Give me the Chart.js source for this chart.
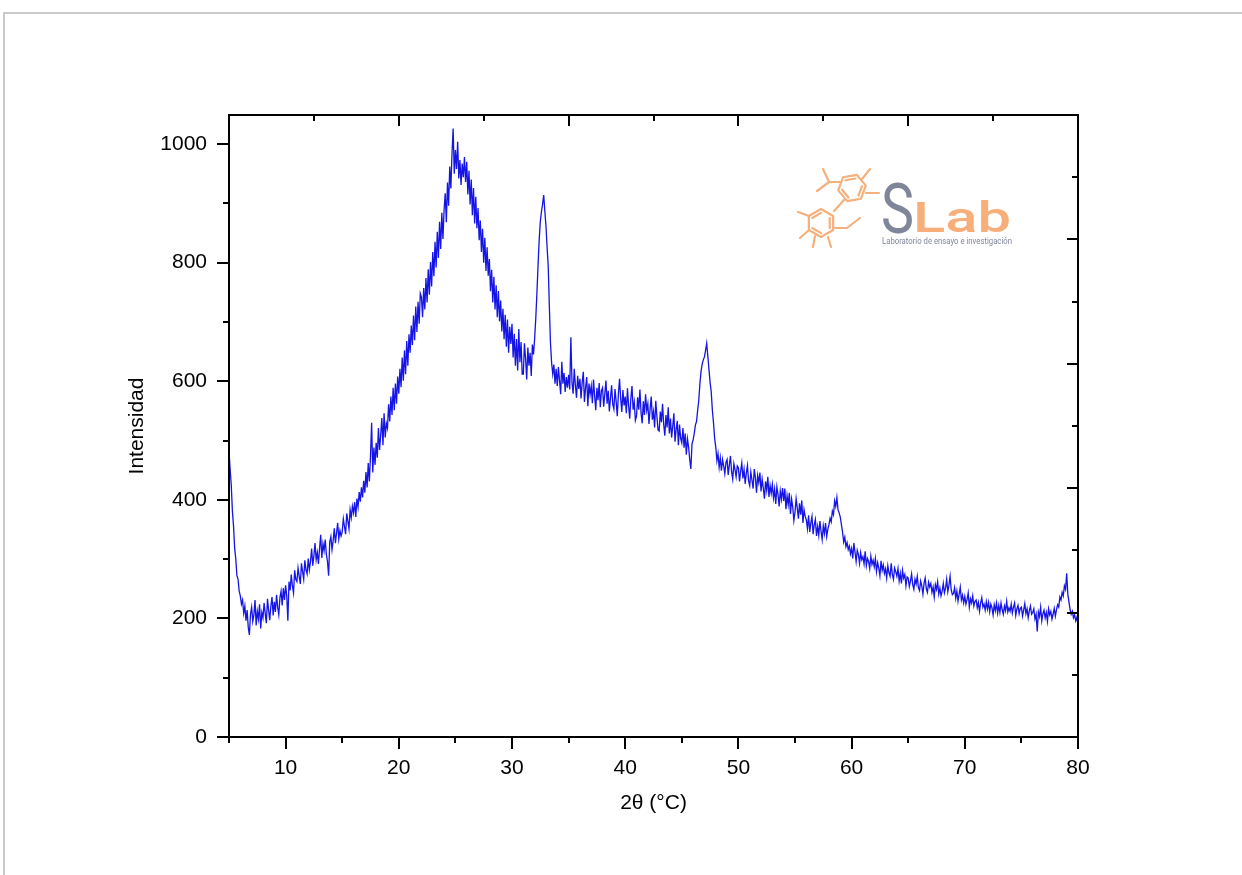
<!DOCTYPE html>
<html>
<head>
<meta charset="utf-8">
<script src="https://cdn.jsdelivr.net/npm/chart.js@4.4.0/dist/chart.umd.min.js"></script>
<style>
    body { margin: 0; background: #fff; }
    #frame {
        position: absolute; left: 3px; top: 12px; right: 0; bottom: 0;
        border-top: 2px solid #cacaca; border-left: 2px solid #cacaca;
    }
    #xrdChart { position: absolute; left: 0; top: 0; }
</style>
</head>
<body>
<div id="frame"></div>
<canvas id="xrdChart" width="1242" height="875"></canvas>
<script>
// Diffractogram sampled every 0.1 degrees, 5.0 -> 80.0 (one row per degree)
const twoThetaStart = 5;
const twoThetaStep = 0.1;
const intensity = [
    482, 452, 425, 381, 356, 318, 300, 272, 266, 246,   // 5
    238, 224, 231, 209, 221, 196, 214, 185, 172, 207,   // 6
    219, 195, 206, 231, 188, 212, 199, 224, 183, 210,   // 7
    201, 226, 208, 192, 233, 214, 197, 221, 236, 205,   // 8
    228, 211, 240, 219, 206, 235, 246, 222, 251, 231,   // 9
    256, 238, 196, 262, 247, 274, 255, 243, 281, 266,   // 10
    262, 285, 271, 258, 293, 279, 266, 298, 282, 275,   // 11
    301, 282, 296, 318, 289, 306, 327, 299, 311, 292,   // 12
    318, 341, 302, 326, 314, 333, 308, 296, 272, 329,   // 13
    338, 316, 331, 352, 327, 344, 361, 334, 348, 339,   // 14
    346, 368, 355, 342, 377, 364, 351, 383, 370, 389,   // 15
    378, 396, 371, 402, 388, 413, 397, 421, 404, 432,   // 16
    412, 447, 421, 462, 431, 474, 530, 446, 488, 459,   // 17
    496, 471, 521, 484, 509, 538, 492, 546, 505, 529,   // 18
    521, 561, 532, 574, 543, 589, 551, 596, 562, 608,   // 19
    579, 621, 590, 640, 601, 652, 612, 668, 626, 679,   // 20
    648, 694, 661, 711, 669, 726, 683, 734, 697, 748,   // 21
    742, 708, 757, 721, 774, 733, 789, 746, 801, 760,   // 22
    818, 777, 835, 792, 852, 808, 869, 823, 884, 840,   // 23
    889, 917, 868, 935, 896, 962, 925, 984, 1026, 950,  // 24
    990, 958, 1004, 942, 973, 931, 967, 944, 978, 936,  // 25
    970, 915, 955, 898, 940, 880, 926, 866, 911, 858,   // 26
    892, 838, 871, 818, 857, 800, 842, 786, 826, 778,   // 27
    806, 752, 788, 733, 776, 721, 762, 708, 752, 701,   // 28
    736, 684, 722, 671, 712, 658, 704, 648, 692, 663,   // 29
    697, 640, 680, 626, 671, 618, 688, 632, 666, 612,   // 30
    612, 664, 638, 603, 657, 626, 648, 609, 662, 645,   // 31
    672, 706, 748, 795, 838, 869, 886, 898, 914, 887,   // 32
    862, 826, 794, 726, 664, 631, 612, 628, 596, 621,   // 33
    592, 624, 601, 578, 633, 596, 614, 582, 607, 589,   // 34
    611, 586, 674, 598, 579, 621, 593, 572, 609, 587,   // 35
    604, 571, 598, 616, 565, 589, 607, 558, 596, 578,   // 36
    592, 563, 603, 575, 551, 589, 568, 597, 556, 584,   // 37
    589, 557, 579, 601, 562, 584, 549, 572, 593, 561,   // 38
    553, 587, 566, 541, 579, 604, 571, 548, 585, 559,   // 39
    574, 546, 588, 559, 537, 571, 592, 552, 565, 534,   // 40
    541, 573, 552, 586, 547, 529, 566, 543, 578, 551,   // 41
    562, 528, 553, 574, 535, 549, 522, 567, 541, 518,   // 42
    516, 549, 531, 562, 527, 508, 543, 522, 556, 512,   // 43
    537, 505, 524, 546, 498, 519, 533, 492, 527, 503,   // 44
    496, 521, 488, 512, 476, 503, 489, 468, 452, 494,   // 45
    501, 512, 526, 532, 551, 568, 596, 617, 629, 636,   // 46
    641, 652, 664, 642, 620, 598, 582, 551, 530, 504,   // 47
    489, 466, 478, 455, 471, 449, 468, 457, 444, 463,   // 48
    468, 442, 459, 474, 447, 435, 461, 451, 439, 457,   // 49
    454, 431, 449, 462, 436, 451, 427, 445, 458, 432,   // 50
    424, 447, 433, 419, 452, 438, 412, 441, 429, 446,   // 51
    414, 435, 420, 402, 431, 416, 439, 405, 424, 411,   // 52
    426, 403, 418, 393, 422, 409, 389, 415, 401, 420,   // 53
    398, 419, 384, 407, 392, 412, 376, 401, 388, 365,   // 54
    379, 402, 386, 368, 394, 375, 399, 361, 383, 372,   // 55
    366, 351, 374, 346, 361, 372, 342, 358, 367, 339,   // 56
    355, 340, 364, 347, 333, 356, 343, 361, 338, 350,   // 57
    358, 369, 363, 381, 375, 398, 389, 404, 383, 378,   // 58
    371, 358, 346, 329, 337, 321, 328, 316, 322, 309,   // 59
    318, 301, 327, 312, 296, 315, 308, 293, 311, 299,   // 60
    304, 292, 313, 289, 301, 296, 284, 305, 291, 298,   // 61
    287, 301, 279, 294, 285, 272, 297, 281, 290, 276,   // 62
    284, 268, 289, 277, 271, 293, 274, 266, 285, 279,   // 63
    271, 284, 263, 276, 259, 281, 268, 274, 255, 270,   // 64
    268, 254, 263, 275, 257, 249, 266, 258, 271, 252,   // 65
    247, 263, 255, 241, 259, 268, 250, 244, 261, 253,   // 66
    259, 244, 253, 236, 257, 249, 262, 241, 251, 238,   // 67
    246, 259, 243, 251, 266, 245, 256, 271, 248, 240,   // 68
    242, 252, 234, 246, 229, 241, 253, 231, 239, 226,   // 69
    237, 224, 232, 243, 219, 233, 226, 238, 221, 229,   // 70
    231, 218, 227, 212, 226, 235, 219, 224, 214, 228,   // 71
    216, 227, 211, 224, 218, 206, 223, 213, 226, 209,   // 72
    222, 210, 226, 215, 207, 221, 213, 229, 211, 218,   // 73
    212, 224, 209, 219, 226, 205, 216, 222, 208, 217,   // 74
    219, 204, 214, 225, 208, 216, 201, 213, 221, 207,   // 75
    210, 216, 199, 207, 178, 211, 203, 219, 196, 208,   // 76
    214, 201, 210, 195, 216, 206, 212, 199, 207, 217,   // 77
    204, 215, 223, 219, 236, 231, 244, 238, 255, 249,   // 78
    276, 241, 228, 215, 207, 212, 201, 206, 196, 202,   // 79
    190                                                 // 80
];

const xTickValues = [10, 20, 30, 40, 50, 60, 70, 80];
const yTickValues = [0, 200, 400, 600, 800, 1000];

const points = intensity.map((v, i) => ({
    x: +(twoThetaStart + i * twoThetaStep).toFixed(2),
    y: v
}));

const axisFont = { family: "'Liberation Sans', Arial, sans-serif", size: 21 };

// Box frame plus tick marks (outward on left/bottom, inward on top/right)
const frameTicks = {
    id: 'frameTicks',
    afterDatasetsDraw(chart) {
        const { ctx, chartArea: a, scales: { x, y } } = chart;
        ctx.save();
        ctx.strokeStyle = '#000';
        ctx.lineWidth = 2;
        ctx.strokeRect(a.left, a.top, a.right - a.left, a.bottom - a.top);

        ctx.beginPath();
        // left axis
        for (let v = 0; v <= 1000; v += 100) {
            const py = Math.round(y.getPixelForValue(v));
            ctx.moveTo(a.left, py);
            ctx.lineTo(a.left - (v % 200 === 0 ? 12 : 6), py);
        }
        // bottom axis
        for (let v = 5; v <= 80; v += 5) {
            const px = Math.round(x.getPixelForValue(v));
            ctx.moveTo(px, a.bottom);
            ctx.lineTo(px, a.bottom + (v % 10 === 0 ? 12 : 6));
        }
        // top and right axes: ten divisions, long marks on even ones
        const w = a.right - a.left, h = a.bottom - a.top;
        for (let k = 1; k < 10; k++) {
            const len = k % 2 === 0 ? 11 : 6;
            const px = Math.round(a.left + w * k / 10);
            ctx.moveTo(px, a.top);
            ctx.lineTo(px, a.top + len);
            const py = Math.round(a.bottom - h * k / 10);
            ctx.moveTo(a.right, py);
            ctx.lineTo(a.right - len, py);
        }
        ctx.stroke();
        ctx.restore();
    }
};

// Lab logo in the upper right of the plot
function fitText(ctx, text, font, left, baseline, width) {
    ctx.font = font;
    const sx = width / ctx.measureText(text).width;
    ctx.save();
    ctx.translate(left, baseline);
    ctx.scale(sx, 1);
    ctx.fillText(text, 0, 0);
    ctx.restore();
}

function hexRing(ctx, cx, cy, r, rot) {
    const pts = [];
    for (let i = 0; i < 6; i++) {
        const t = rot + Math.PI / 2 + i * Math.PI / 3;
        pts.push([cx + r * Math.cos(t), cy - r * Math.sin(t)]);
    }
    ctx.beginPath();
    pts.forEach((p, i) => i ? ctx.lineTo(p[0], p[1]) : ctx.moveTo(p[0], p[1]));
    ctx.closePath();
    ctx.stroke();
    // inner double-bond strokes
    ctx.beginPath();
    [0, 2, 4].forEach(i => {
        const p = pts[i], q = pts[(i + 1) % 6];
        const f = 0.72;
        ctx.moveTo(cx + (p[0] - cx) * f, cy + (p[1] - cy) * f);
        ctx.lineTo(cx + (q[0] - cx) * f, cy + (q[1] - cy) * f);
    });
    ctx.stroke();
    return pts;
}

const logo = {
    id: 'logo',
    afterDraw(chart) {
        const ctx = chart.ctx;
        ctx.save();
        ctx.strokeStyle = '#f6b07c';
        ctx.lineWidth = 2.2;
        ctx.lineCap = 'round';
        ctx.lineJoin = 'round';
        hexRing(ctx, 852, 188, 14, -0.35);
        hexRing(ctx, 821, 223, 14, 0.0);
        const bonds = [
            [[840, 182], [829, 182]], [[829, 182], [823, 169]], [[829, 182], [817, 191]],
            [[866, 193], [879, 193]], [[862, 179], [870, 169]], [[844, 200], [834, 211]],
            [[809, 216], [798, 212]], [[809, 230], [800, 238]], [[815, 236], [813, 247]],
            [[828, 237], [831, 247]], [[834, 228], [847, 228]], [[847, 228], [860, 218]]
        ];
        ctx.beginPath();
        bonds.forEach(([p, q]) => { ctx.moveTo(p[0], p[1]); ctx.lineTo(q[0], q[1]); });
        ctx.stroke();

        ctx.fillStyle = '#7f8699';
        fitText(ctx, 'S', "400 70px Roboto, sans-serif", 881, 233, 33);
        ctx.fillStyle = '#f8ae78';
        fitText(ctx, 'Lab', "500 43px Roboto, sans-serif", 913, 232, 98);
        ctx.fillStyle = '#7f8699';
        fitText(ctx, 'Laboratorio de ensayo e investigación', "400 9px Roboto, sans-serif", 882, 244, 130);
        ctx.restore();
    }
};

new Chart(document.getElementById('xrdChart'), {
    type: 'line',
    data: {
        datasets: [{
            data: points,
            borderColor: '#1414e6',
            borderWidth: 1.3,
            pointRadius: 0,
            tension: 0,
            fill: false
        }]
    },
    options: {
        responsive: false,
        animation: false,
        layout: { padding: { top: 115, right: 164, left: 0, bottom: 0 } },
        plugins: { legend: { display: false }, tooltip: { enabled: false } },
        scales: {
            x: {
                type: 'linear',
                min: 5,
                max: 80,
                grid: { display: false, drawTicks: false },
                border: { display: false },
                afterBuildTicks: s => { s.ticks = xTickValues.map(v => ({ value: v })); },
                afterFit: s => { s.height = 138; },
                ticks: { color: '#000', font: axisFont, padding: 19, maxRotation: 0, callback: v => String(v) },
                title: {
                    display: true, text: '2θ (°C)', color: '#000',
                    font: { ...axisFont, lineHeight: 1.2 }, padding: { bottom: 59, top: 0 }
                }
            },
            y: {
                min: 0,
                max: 1049,
                grid: { display: false, drawTicks: false },
                border: { display: false },
                afterBuildTicks: s => { s.ticks = yTickValues.map(v => ({ value: v })); },
                afterFit: s => { s.width = 229; },
                ticks: { color: '#000', font: axisFont, padding: 22, callback: v => String(v) },
                title: {
                    display: true, text: 'Intensidad', color: '#000',
                    font: { ...axisFont, lineHeight: 1.2 }, padding: { top: 125, bottom: 0 }
                }
            }
        }
    },
    plugins: [frameTicks, logo]
});
</script>
</body>
</html>
